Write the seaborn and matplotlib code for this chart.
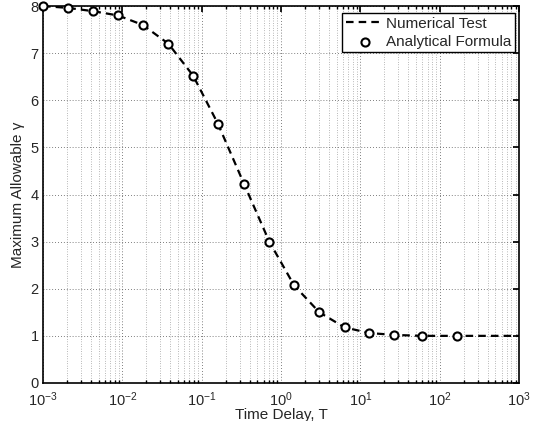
import numpy as np
import pandas as pd
import matplotlib
matplotlib.use("Agg")
import matplotlib.pyplot as plt
import seaborn as sns
from matplotlib.ticker import LogLocator, FixedLocator

# Data
delay_T = [0.001, 0.00206, 0.0043, 0.0088, 0.018, 0.038, 0.078, 0.16, 0.34, 0.71,
           1.46, 3.03, 6.3, 12.9, 26.8, 59.0, 166.0]
gamma_analytical = [8.0, 7.96, 7.89, 7.8, 7.6, 7.2, 6.52, 5.5, 4.23, 3.0,
                    2.07, 1.5, 1.18, 1.06, 1.02, 1.0, 1.0]
delay_T_num = delay_T + [1000.0]
gamma_numerical = gamma_analytical + [1.0]

x_ticks = [1e-3, 1e-2, 1e-1, 1e0, 1e1, 1e2, 1e3]
x_tick_labels = [r"$10^{-3}$", r"$10^{-2}$", r"$10^{-1}$", r"$10^{0}$",
                 r"$10^{1}$", r"$10^{2}$", r"$10^{3}$"]
y_ticks = [0, 1, 2, 3, 4, 5, 6, 7, 8]

sns.set_theme(style="white")
plt.rcParams['font.family'] = ['Liberation Sans', 'DejaVu Sans']
plt.rcParams['mathtext.fontset'] = 'custom'
plt.rcParams['mathtext.rm'] = 'Liberation Sans'
plt.rcParams['mathtext.it'] = 'Liberation Sans'

df_num = pd.DataFrame({"T": delay_T_num, "g": gamma_numerical})
df_ana = pd.DataFrame({"T": delay_T, "g": gamma_analytical})

fig = plt.figure(figsize=(5.38, 4.21), dpi=100)
ax = fig.add_axes([0.080, 0.0903, 0.885, 0.8954])

sns.lineplot(data=df_num, x="T", y="g", ax=ax, color="black", linewidth=1.6,
             linestyle=(0, (3.4, 2.3)), label="Numerical Test", zorder=3)
sns.scatterplot(data=df_ana, x="T", y="g", ax=ax, marker="o", s=34,
                facecolor="white", edgecolor="black", linewidth=1.5,
                label="Analytical Formula", zorder=4, clip_on=False)

ax.set_xscale("log")
ax.set_xlim(1e-3, 1e3)
ax.set_ylim(0, 8)
ax.xaxis.set_major_locator(FixedLocator(x_ticks))
ax.set_xticklabels(x_tick_labels)
ax.xaxis.set_minor_locator(LogLocator(base=10, subs=np.arange(2, 10)))
ax.set_yticks(y_ticks)

ax.grid(True, which="major", axis="both", color="#555555", linestyle=(0, (1, 2.5)), linewidth=0.6)
ax.grid(True, which="minor", axis="x", color="#777777", linestyle=(0, (1, 2.5)), linewidth=0.5)

ax.tick_params(axis="both", which="both", direction="in", top=True, right=True,
               labelsize=10.5, color="black", pad=3)
ax.tick_params(axis="x", which="major", pad=5)
ax.tick_params(which="major", length=4)
ax.tick_params(which="minor", length=2)
ax.xaxis.set_tick_params(which="minor", bottom=True, top=True)
for s in ax.spines.values():
    s.set_color("black")
    s.set_linewidth(1.2)

ax.set_xlabel("Time Delay, T", fontsize=11)
ax.xaxis.set_label_coords(0.5, -0.066)
ax.set_ylabel("Maximum Allowable γ", fontsize=11, labelpad=4)

leg = ax.legend(loc="upper right", bbox_to_anchor=(1 - 4/476, 1 - 7/377),
                frameon=True, fancybox=False, fontsize=11,
                borderpad=0.25, handlelength=2.4, handletextpad=0.2, labelspacing=0.25,
                borderaxespad=0.0)
leg.get_frame().set_edgecolor("black")
leg.get_frame().set_linewidth(1.0)
leg.get_frame().set_alpha(1.0)

fig.savefig("out.png", dpi=100)
